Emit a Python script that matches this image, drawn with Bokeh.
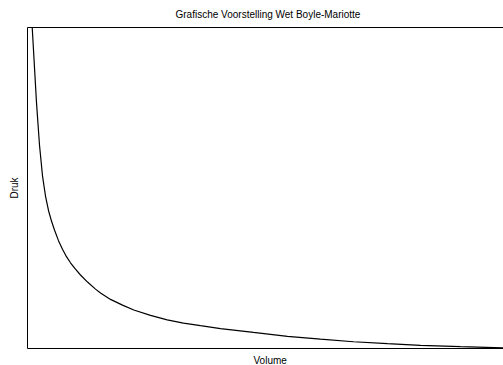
from bokeh.plotting import figure
from bokeh.models import Range1d, LinearAxis, FixedTicker, Title
from bokeh.embed import file_html
from bokeh.resources import INLINE

title_text = "Grafische Voorstelling Wet Boyle-Mariotte"
x_label = "Volume"
y_label = "Druk"

# Volume (relative units, 0-100) and Druk (relative units, 0-100)
volume = [0.82, 0.99, 1.89, 2.52, 3.15, 3.78, 4.41, 5.04, 5.67, 6.51, 7.35, 8.19,
          9.03, 10.08, 11.13, 12.61, 14.29, 15.34, 17.44, 19.96, 22.33, 25.84,
          29.35, 32.77, 36.34, 40.55, 47.48, 54.62, 61.55, 68.49, 75.63, 82.56,
          90.97, 100.0]
druk = [104.7, 100.0, 76.6, 63.4, 53.8, 47.5, 43.0, 39.7, 36.9, 33.6, 30.9, 28.6,
        26.7, 24.7, 22.9, 20.7, 18.5, 17.3, 15.3, 13.5, 12.0, 10.3,
        8.9, 7.9, 7.1, 6.2, 5.0, 3.8, 2.9, 2.1, 1.5, 1.0,
        0.56, 0.16]

FONT = "Liberation Sans"

p = figure(width=503, height=365, output_backend="svg", toolbar_location=None,
           x_range=Range1d(0, 100), y_range=Range1d(0, 100),
           min_border_left=27, min_border_top=27, min_border_bottom=17,
           min_border_right=0)
p.outline_line_color = None
p.grid.visible = False
p.background_fill_color = "white"
p.border_fill_color = "white"

top_axis = LinearAxis()
p.add_layout(top_axis, "above")

for ax in p.axis:
    ax.ticker = FixedTicker(ticks=[])
    ax.major_tick_out = 0
    ax.major_tick_in = 0
    ax.minor_tick_out = 0
    ax.minor_tick_in = 0
    ax.major_tick_line_color = None
    ax.minor_tick_line_color = None
    ax.major_label_standoff = 0
    ax.axis_line_color = "black"
    ax.axis_line_width = 1
    ax.major_label_text_font_size = "0px"
    ax.major_label_text_color = None

# invisible spacer ticks on the horizontal axes (no line, no label) to set text distances
for ax in p.xaxis:
    ax.ticker = FixedTicker(ticks=[50])
    ax.major_label_overrides = {50: ""}
    ax.major_tick_out = 4
top_axis.major_tick_out = 8

p.yaxis[0].axis_label = y_label
p.yaxis[0].axis_label_text_font = FONT
p.yaxis[0].axis_label_text_font_size = "10px"
p.yaxis[0].axis_label_text_font_style = "normal"
p.yaxis[0].axis_label_text_color = "black"
p.yaxis[0].axis_label_standoff = 8

p.title.text = title_text
p.title.align = "left"
p.title.offset = 148
p.title.standoff = 0
p.title.vertical_align = "bottom"
p.title.text_font = FONT
p.title.text_font_size = "10px"
p.title.text_font_style = "normal"
p.title.text_color = "black"

x_title = Title(text=x_label, align="left", offset=226, standoff=0,
                vertical_align="bottom", text_font=FONT, text_font_size="10px",
                text_font_style="normal", text_color="black")
p.add_layout(x_title, "below")

p.line(volume, druk, line_color="black", line_width=1.2)

open("out.html", "w").write(file_html(p, INLINE))
